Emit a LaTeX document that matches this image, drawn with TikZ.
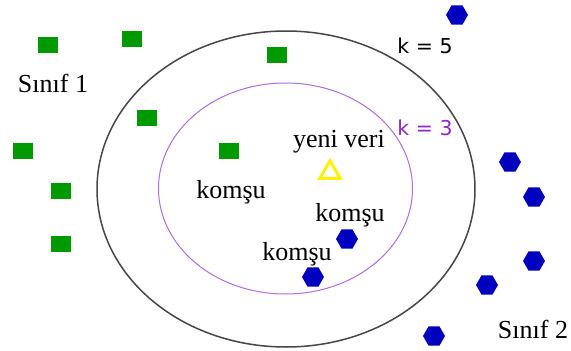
\documentclass[tikz,border=0pt]{standalone}
\usepackage{fontspec}
\setmainfont{Liberation Serif}
\newfontfamily\klabel{DejaVu Sans}
\usetikzlibrary{shapes.geometric}
\definecolor{sqgreen}{RGB}{0,153,0}
\definecolor{hexblue}{RGB}{0,0,190}
\definecolor{kpurple}{RGB}{140,40,200}
\definecolor{ringpurple}{RGB}{175,110,220}
\definecolor{ringgray}{RGB}{70,70,70}
\tikzset{
  sq/.style={rectangle,fill=sqgreen,minimum width=20pt,minimum height=16pt,inner sep=0pt},
  hexa/.style={regular polygon,regular polygon sides=6,fill=hexblue,minimum size=22pt,inner sep=0pt},
  lbl/.style={anchor=base,inner sep=0pt,font=\fontsize{26}{29}\selectfont},
  klbl/.style={anchor=base,inner sep=0pt,font=\klabel\fontsize{20.5}{23}\selectfont},
  newpt/.style={regular polygon,regular polygon sides=3,draw=yellow,line width=3pt,minimum size=23.5pt,inner sep=0pt}
}
\begin{document}
\begin{tikzpicture}[x=1pt,y=-1pt]
\useasboundingbox (0,0) rectangle (571,351);
% rings
\draw[ringgray,line width=1.5pt] (286,189) ellipse [x radius=189pt, y radius=158pt];
\draw[ringpurple,line width=1pt] (285.5,188.5) ellipse [x radius=127pt, y radius=105.5pt];
% class 1
\node[sq] (g1) at (48,45) {};
\node[sq] (g2) at (132,39) {};
\node[sq] (g3) at (277,55) {};
\node[sq] (g4) at (147,118) {};
\node[sq] (g5) at (23,151) {};
\node[sq] (g6) at (229,151) {};
\node[sq] (g7) at (61,191) {};
\node[sq] (g8) at (61,244) {};
% class 2
\node[hexa] (b1) at (457,15) {};
\node[hexa] (b2) at (510,162) {};
\node[hexa] (b3) at (534,197) {};
\node[hexa] (b4) at (347,239) {};
\node[hexa] (b5) at (313,277) {};
\node[hexa] (b6) at (534,261) {};
\node[hexa] (b7) at (487,285) {};
\node[hexa] (b8) at (434,336) {};
% new point
\node[newpt] (new) at (330,172.5) {};
% labels
\node[lbl] (s1) at (53,92) {Sınıf 1};
\node[lbl] (s2) at (533,338) {Sınıf 2};
\node[lbl] (yv) at (339,147) {yeni veri};
\node[lbl] (n1) at (231,198) {komşu};
\node[lbl] (n2) at (350,221) {komşu};
\node[lbl] (n3) at (297,260) {komşu};
\node[klbl,text=black] (k5) at (425,53) {k = 5};
\node[klbl,text=kpurple] (k3) at (425,135) {k = 3};
\end{tikzpicture}
\end{document}
